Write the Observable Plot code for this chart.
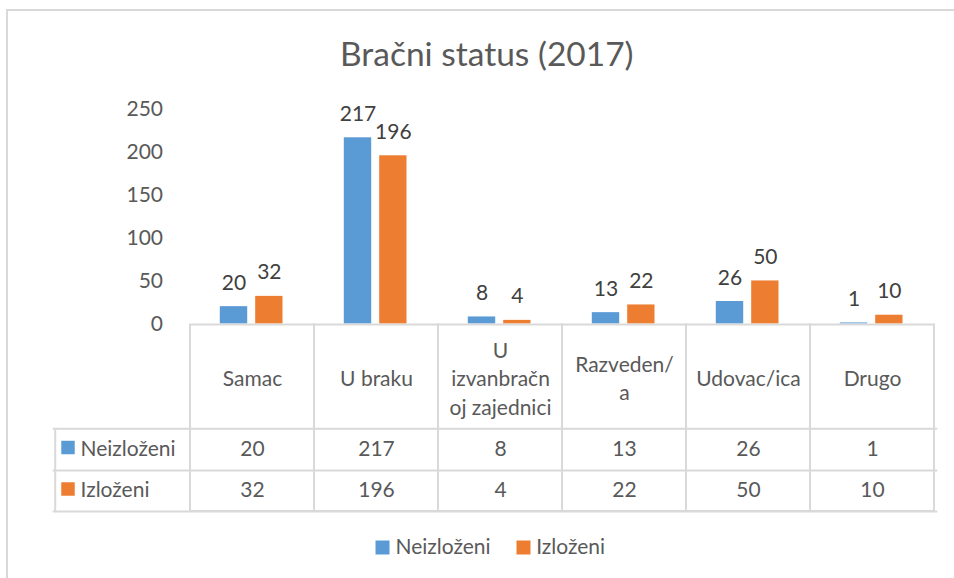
<!DOCTYPE html>
<html>
<head>
<meta charset="utf-8">
<script src="https://cdn.jsdelivr.net/npm/d3@7"></script>
<script src="https://cdn.jsdelivr.net/npm/@observablehq/plot@0.6"></script>
<style>
  html, body { margin: 0; padding: 0; background: #fff; }
  #wrap { position: relative; width: 954px; height: 578px; overflow: hidden; }
  #border { position: absolute; left: 6px; top: 9px; width: 1000px; height: 600px;
            border-left: 2px solid #d9d9d9; border-top: 2px solid #d9d9d9; pointer-events: none; }
  #chart { position: absolute; left: 0; top: 0; }
</style>
</head>
<body>
<div id="wrap"><div id="chart"></div><div id="border"></div></div>
<script>
const title = "Bračni status (2017)";
const categories = ["Samac", "U braku", "U izvanbračnoj zajednici", "Razveden/a", "Udovac/ica", "Drugo"];
const categoryLabels = ["Samac", "U braku", "U\nizvanbračn\noj zajednici", "Razveden/\na", "Udovac/ica", "Drugo"];
const series = ["Neizloženi", "Izloženi"];
const neizlozeni = [20, 217, 8, 13, 26, 1];
const izlozeni = [32, 196, 4, 22, 50, 10];
const yTicks = [0, 50, 100, 150, 200, 250];
const colors = ["#5B9BD5", "#ED7D31"];

const rows = categories.map((c, i) => ({category: c, label: categoryLabels[i], neiz: neizlozeni[i], izl: izlozeni[i]}));
const seriesKeys = ["neiz", "izl"];

// layout (styles)
const W = 954, H = 578;
const mL = 187.5, mR = 16.7, mT = 109, mB = 254.7;
const band = (W - mL - mR) / categories.length;
const base = H - mB;              // y pixel of value 0
const gridColor = "#d9d9d9";
const textColor = "#595959";
const labelColor = "#404040";
const FS = 21;
const barInsets = [[29.8, 66.8], [65.2, 31.5]];
const rowDy = [125.2, 166.7];     // table data rows (center) below baseline
const tableTop = 324.5, tableBottom = 511;
const rowLines = [428.3, 470, 511];
const tableLeft = 52.7;

const marks = [];

// table column cells (header + data rows)
marks.push(Plot.cell(rows, {x: "category", fill: "none", stroke: gridColor, strokeWidth: 2,
  dy: tableTop - mT, insetBottom: (base - mT) - (tableBottom - tableTop)}));
// horizontal table lines extending to the row-label column
for (const yl of rowLines) {
  marks.push(Plot.ruleY([0], {stroke: gridColor, strokeWidth: 2, dy: yl - base, insetLeft: -(mL - tableLeft)}));
}
// left edge of row-label column
marks.push(Plot.ruleX([categories[0]], {stroke: gridColor, strokeWidth: 2,
  dx: -band / 2 - (mL - tableLeft), dy: rowLines[0] - mT, insetBottom: (base - mT) - (tableBottom - rowLines[0])}));

// bars + labels
seriesKeys.forEach((k, s) => {
  marks.push(Plot.barY(rows, {x: "category", y: k, fill: colors[s],
    insetLeft: barInsets[s][0], insetRight: barInsets[s][1]}));
  const center = barInsets[s][0] + (band - barInsets[s][0] - barInsets[s][1]) / 2 - band / 2;
  marks.push(Plot.text(rows, {x: "category", y: k, text: d => String(d[k]), dx: center, dy: -17,
    lineAnchor: "bottom", fill: labelColor, fontSize: FS}));
  // table values
  marks.push(Plot.text(rows, {x: "category", text: d => String(d[k]), frameAnchor: "bottom",
    dy: rowDy[s], lineAnchor: "middle", fill: textColor, fontSize: FS}));
  // row labels with swatch
  marks.push(Plot.dot([series[s]], {frameAnchor: "bottom-left", dx: 67.5 - mL, dy: rowDy[s] - 1.5,
    symbol: "square", r: 7.6, fill: colors[s], stroke: "none"}));
  marks.push(Plot.text([series[s]], {frameAnchor: "bottom-left", text: d => d, dx: 80 - mL, dy: rowDy[s],
    textAnchor: "start", lineAnchor: "middle", fill: textColor, fontSize: FS}));
});

// header row category labels
marks.push(Plot.text(rows, {x: "category", text: "label", frameAnchor: "bottom", dy: 376.7 - base,
  lineAnchor: "middle", lineHeight: 1.35, fill: textColor, fontSize: FS}));

// y axis
marks.push(Plot.axisY({ticks: yTicks, tickSize: 0, tickPadding: 25, fontSize: FS, color: textColor, tickFormat: d => String(d)}));

// title
marks.push(Plot.text([title], {frameAnchor: "top-left", text: d => d, dx: 486.3 - mL, dy: 65 - mT,
  textAnchor: "middle", lineAnchor: "bottom", fill: textColor, fontSize: 33.5}));

// legend
const legendSwatchX = [382, 523];
const legendTextX = [395, 535.7];
series.forEach((name, s) => {
  marks.push(Plot.dot([name], {frameAnchor: "bottom-left", dx: legendSwatchX[s] - mL, dy: 547 - base,
    symbol: "square", r: 7.9, fill: colors[s], stroke: "none"}));
  marks.push(Plot.text([name], {frameAnchor: "bottom-left", text: d => d, dx: legendTextX[s] - mL, dy: 546.7 - base,
    textAnchor: "start", lineAnchor: "middle", fill: textColor, fontSize: FS}));
});

const chart = Plot.plot({
  width: W, height: H,
  marginLeft: mL, marginRight: mR, marginTop: mT, marginBottom: mB,
  style: {fontFamily: "Lato, 'Open Sans', sans-serif", fontSize: FS + "px", color: textColor, background: "white", overflow: "visible"},
  x: {type: "band", domain: categories, padding: 0, axis: null},
  y: {domain: [0, 250], axis: null},
  marks
});
document.getElementById("chart").appendChild(chart);
</script>
</body>
</html>
